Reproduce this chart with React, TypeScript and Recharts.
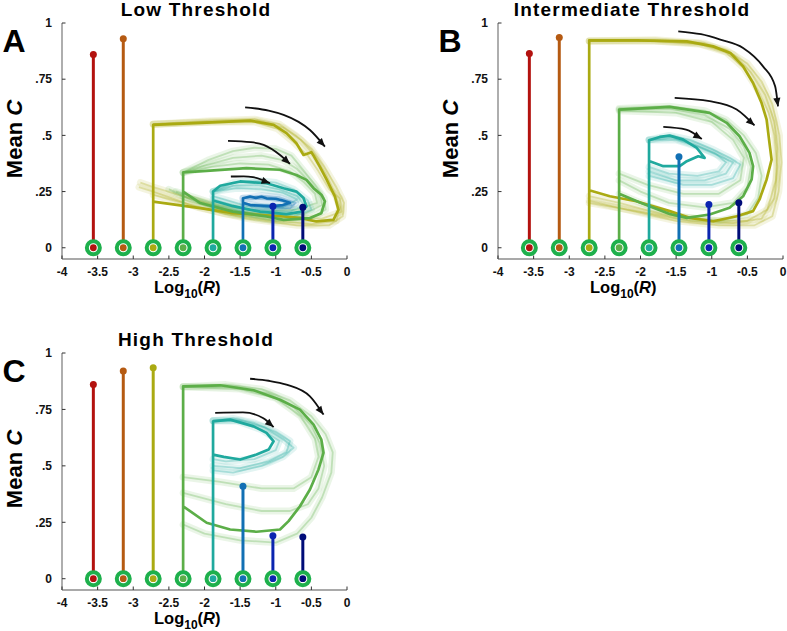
import React from 'react';
import { ComposedChart, Line, Scatter, XAxis, YAxis, Label } from 'recharts';

const FONT = '"Liberation Sans", Arial, Helvetica, sans-serif';

type Pt = [number, number];

// ---------- shared categories / ticks ----------
const STEM_X = [-3.56, -3.14, -2.72, -2.3, -1.88, -1.46, -1.04, -0.62];
const COLORS = ['#b3120f', '#b55a12', '#aaaa12', '#5cae48', '#1fa99e', '#1270b4', '#0b25b0', '#000c78'];
const RING = '#1eb04c';

const X_TICKS = [-4, -3.5, -3, -2.5, -2, -1.5, -1, -0.5, 0];
const X_TICK_LABELS = ['-4', '-3.5', '-3', '-2.5', '-2', '-1.5', '-1', '-0.5', '0'];
const Y_TICKS = [0, 0.25, 0.5, 0.75, 1];
const Y_TICK_LABELS = ['0', '.25', '.5', '.75', '1'];

// ---------- Panel A: Low Threshold ----------
const A_STEM_TOPS: Pt[] = [[0, 0.86], [1, 0.93], [6, 0.185], [7, 0.18]];
const A_OLIVE: Pt[] = [[-2.72, 0], [-2.72, 0.547], [-1.97, 0.557], [-1.36, 0.566], [-1.03, 0.547], [-0.85, 0.51], [-0.71, 0.465], [-0.61, 0.413], [-0.5, 0.425], [-0.47, 0.41], [-0.38, 0.36], [-0.28, 0.3], [-0.17, 0.228], [-0.12, 0.169], [-0.19, 0.124], [-0.43, 0.117], [-0.66, 0.133], [-0.89, 0.139], [-1.6, 0.154], [-2.06, 0.176], [-2.72, 0.205]];
const A_OLIVE_F1: Pt[] = [[-2.72, 0.55], [-1.9, 0.565], [-1.3, 0.572], [-0.95, 0.55], [-0.72, 0.5], [-0.5, 0.44], [-0.32, 0.36], [-0.15, 0.27], [-0.04, 0.2], [-0.06, 0.14], [-0.25, 0.1], [-0.7, 0.1], [-1.4, 0.13], [-2.1, 0.18], [-2.72, 0.25], [-2.92, 0.27]];
const A_OLIVE_F2: Pt[] = [[-2.72, 0.55], [-1.9, 0.56], [-1.25, 0.565], [-0.9, 0.535], [-0.65, 0.48], [-0.45, 0.41], [-0.3, 0.33], [-0.18, 0.25], [-0.1, 0.18], [-0.15, 0.12], [-0.5, 0.105], [-1.0, 0.12], [-1.7, 0.15], [-2.3, 0.2], [-2.72, 0.235]];
const A_OLIVE_F3: Pt[] = [[-2.72, 0.55], [-1.9, 0.56], [-1.3, 0.56], [-0.98, 0.53], [-0.75, 0.47], [-0.55, 0.41], [-0.4, 0.34], [-0.25, 0.26], [-0.1, 0.22], [-0.08, 0.16], [-0.35, 0.13], [-0.8, 0.135], [-1.5, 0.16], [-2.2, 0.22], [-2.72, 0.27], [-2.9, 0.29]];
const A_GREEN: Pt[] = [[-2.3, 0], [-2.3, 0.335], [-1.97, 0.342], [-1.41, 0.354], [-0.94, 0.347], [-0.71, 0.324], [-0.57, 0.302], [-0.47, 0.265], [-0.36, 0.236], [-0.31, 0.206], [-0.36, 0.154], [-0.52, 0.132], [-0.89, 0.124], [-1.13, 0.139], [-1.6, 0.161], [-2.06, 0.199], [-2.3, 0.25]];
const A_GREEN_F1: Pt[] = [[-2.3, 0.335], [-1.95, 0.39], [-1.6, 0.43], [-1.3, 0.445], [-1.0, 0.44], [-0.78, 0.41], [-0.6, 0.34], [-0.45, 0.28], [-0.32, 0.22], [-0.3, 0.17], [-0.5, 0.13], [-1.0, 0.12], [-1.6, 0.15], [-2.1, 0.2], [-2.5, 0.26]];
const A_GREEN_F2: Pt[] = [[-2.3, 0.335], [-1.95, 0.37], [-1.6, 0.4], [-1.2, 0.41], [-0.9, 0.39], [-0.7, 0.35], [-0.52, 0.29], [-0.38, 0.24], [-0.35, 0.19], [-0.6, 0.15], [-1.1, 0.145], [-1.7, 0.17], [-2.3, 0.23]];
const A_GREEN_F3: Pt[] = [[-2.3, 0.335], [-1.9, 0.36], [-1.5, 0.375], [-1.1, 0.37], [-0.8, 0.34], [-0.6, 0.29], [-0.45, 0.24], [-0.42, 0.2], [-0.7, 0.17], [-1.2, 0.16], [-1.8, 0.19], [-2.4, 0.25]];
const A_TEAL: Pt[] = [[-1.88, 0], [-1.88, 0.25], [-1.78, 0.276], [-1.5, 0.295], [-1.13, 0.287], [-0.89, 0.265], [-0.71, 0.25], [-0.61, 0.221], [-0.57, 0.184], [-0.65, 0.16], [-0.85, 0.15], [-1.22, 0.161], [-1.6, 0.185], [-1.88, 0.21]];
const A_TEAL_F1: Pt[] = [[-1.88, 0.25], [-1.6, 0.29], [-1.3, 0.3], [-1.0, 0.29], [-0.75, 0.26], [-0.55, 0.21], [-0.5, 0.17], [-0.75, 0.14], [-1.3, 0.15], [-1.88, 0.19]];
const A_TEAL_F2: Pt[] = [[-1.88, 0.25], [-1.6, 0.275], [-1.25, 0.28], [-0.95, 0.26], [-0.7, 0.23], [-0.6, 0.19], [-0.8, 0.16], [-1.4, 0.17], [-1.88, 0.215]];
const A_TEAL_F3: Pt[] = [[-1.88, 0.25], [-1.55, 0.265], [-1.2, 0.26], [-0.9, 0.245], [-0.7, 0.215], [-0.9, 0.18], [-1.4, 0.185], [-1.88, 0.23]];
const A_BLUE: Pt[] = [[-1.46, 0], [-1.46, 0.22], [-1.36, 0.228], [-1.28, 0.222], [-1.2, 0.227], [-1.13, 0.22], [-1.0, 0.218], [-0.9, 0.21], [-0.8, 0.2], [-0.9, 0.19], [-1.05, 0.185], [-1.22, 0.188], [-1.36, 0.19], [-1.46, 0.2]];
const A_BLUE_F1: Pt[] = [[-1.46, 0.22], [-1.2, 0.232], [-0.95, 0.225], [-0.72, 0.2], [-0.8, 0.175], [-1.15, 0.18], [-1.46, 0.2]];
const A_BLUE_F2: Pt[] = [[-1.46, 0.22], [-1.15, 0.215], [-0.9, 0.205], [-0.78, 0.19], [-1.0, 0.18], [-1.3, 0.185]];
const A_ARROW_1: Pt[] = [[-1.43, 0.625], [-1.1, 0.61], [-0.89, 0.591], [-0.68, 0.56], [-0.52, 0.524], [-0.31, 0.45]];
const A_ARROW_2: Pt[] = [[-1.67, 0.476], [-1.35, 0.47], [-1.17, 0.458], [-0.94, 0.413], [-0.8, 0.373]];
const A_ARROW_3: Pt[] = [[-1.63, 0.317], [-1.45, 0.318], [-1.32, 0.314], [-1.08, 0.287]];

// ---------- Panel B: Intermediate Threshold ----------
const B_STEM_TOPS: Pt[] = [[0, 0.864], [1, 0.935], [5, 0.405], [6, 0.192], [7, 0.2]];
const B_OLIVE: Pt[] = [[-2.72, 0], [-2.72, 0.923], [-2.05, 0.923], [-1.35, 0.918], [-0.98, 0.896], [-0.74, 0.867], [-0.56, 0.807], [-0.42, 0.733], [-0.3, 0.644], [-0.23, 0.57], [-0.19, 0.467], [-0.16, 0.392], [-0.23, 0.304], [-0.33, 0.215], [-0.42, 0.163], [-0.65, 0.14], [-0.98, 0.118], [-1.31, 0.133], [-1.59, 0.163], [-2.06, 0.207], [-2.43, 0.229], [-2.72, 0.256]];
const B_OLIVE_F1: Pt[] = [[-2.72, 0.92], [-1.8, 0.92], [-1.2, 0.91], [-0.8, 0.88], [-0.5, 0.82], [-0.3, 0.74], [-0.15, 0.64], [-0.05, 0.5], [-0.02, 0.38], [-0.06, 0.25], [-0.15, 0.14], [-0.4, 0.1], [-0.9, 0.1], [-1.5, 0.12], [-2.2, 0.17], [-2.72, 0.21]];
const B_OLIVE_F2: Pt[] = [[-2.72, 0.92], [-1.8, 0.925], [-1.1, 0.91], [-0.7, 0.86], [-0.45, 0.78], [-0.25, 0.68], [-0.12, 0.56], [-0.08, 0.44], [-0.1, 0.3], [-0.22, 0.17], [-0.5, 0.12], [-1.0, 0.12], [-1.7, 0.15], [-2.3, 0.2], [-2.72, 0.23]];
const B_OLIVE_F3: Pt[] = [[-2.72, 0.92], [-1.8, 0.92], [-1.15, 0.905], [-0.8, 0.87], [-0.55, 0.8], [-0.35, 0.7], [-0.2, 0.6], [-0.12, 0.5], [-0.08, 0.36], [-0.12, 0.22], [-0.3, 0.13], [-0.7, 0.11], [-1.3, 0.12], [-2.0, 0.16], [-2.72, 0.2]];
const B_GREEN: Pt[] = [[-2.3, 0], [-2.3, 0.615], [-1.59, 0.627], [-1.03, 0.6], [-0.79, 0.556], [-0.61, 0.496], [-0.47, 0.422], [-0.42, 0.363], [-0.44, 0.304], [-0.56, 0.229], [-0.75, 0.178], [-1.03, 0.148], [-1.35, 0.133], [-1.59, 0.15], [-2.0, 0.2], [-2.3, 0.24]];
const B_GREEN_F1: Pt[] = [[-2.3, 0.62], [-1.6, 0.63], [-1.1, 0.61], [-0.8, 0.57], [-0.55, 0.5], [-0.38, 0.42], [-0.3, 0.32], [-0.35, 0.22], [-0.5, 0.15], [-0.9, 0.12], [-1.5, 0.14], [-2.0, 0.2], [-2.3, 0.24]];
const B_GREEN_F2: Pt[] = [[-2.3, 0.615], [-1.6, 0.62], [-1.1, 0.59], [-0.75, 0.53], [-0.55, 0.45], [-0.45, 0.36], [-0.5, 0.27], [-0.7, 0.2], [-1.1, 0.18], [-1.6, 0.2], [-2.0, 0.25], [-2.3, 0.3]];
const B_GREEN_F3: Pt[] = [[-2.3, 0.61], [-1.5, 0.6], [-1.0, 0.56], [-0.7, 0.48], [-0.55, 0.4], [-0.6, 0.3], [-0.9, 0.24], [-1.4, 0.24], [-1.9, 0.28], [-2.3, 0.33]];
const B_TEAL: Pt[] = [[-1.88, 0], [-1.88, 0.478], [-1.73, 0.493], [-1.59, 0.499], [-1.4, 0.481], [-1.21, 0.444], [-1.1, 0.4], [-1.19, 0.407], [-1.35, 0.385], [-1.45, 0.363], [-1.68, 0.363], [-1.87, 0.385]];
const B_TEAL_F1: Pt[] = [[-1.88, 0.48], [-1.6, 0.5], [-1.3, 0.48], [-1.0, 0.44], [-0.75, 0.4], [-0.6, 0.37], [-0.7, 0.31], [-1.0, 0.28], [-1.4, 0.28], [-1.88, 0.32]];
const B_TEAL_F2: Pt[] = [[-1.88, 0.48], [-1.55, 0.49], [-1.25, 0.46], [-0.95, 0.42], [-0.8, 0.38], [-0.9, 0.34], [-1.2, 0.32], [-1.6, 0.33], [-1.88, 0.36]];
const B_TEAL_F3: Pt[] = [[-1.88, 0.48], [-1.5, 0.48], [-1.2, 0.45], [-0.9, 0.41], [-0.7, 0.38], [-0.8, 0.33], [-1.1, 0.3], [-1.5, 0.3], [-1.88, 0.34]];
const B_ARROW_1: Pt[] = [[-1.47, 0.963], [-1.15, 0.95], [-0.88, 0.926], [-0.56, 0.889], [-0.28, 0.807], [-0.11, 0.718], [-0.07, 0.629]];
const B_ARROW_2: Pt[] = [[-1.52, 0.667], [-1.03, 0.652], [-0.65, 0.615], [-0.4, 0.544]];
const B_ARROW_3: Pt[] = [[-1.68, 0.538], [-1.36, 0.526], [-1.14, 0.484]];

// ---------- Panel C: High Threshold ----------
const C_STEM_TOPS: Pt[] = [[0, 0.86], [1, 0.92], [2, 0.935], [5, 0.41], [6, 0.19], [7, 0.185]];
const C_GREEN: Pt[] = [[-2.3, 0], [-2.3, 0.852], [-1.78, 0.857], [-1.31, 0.835], [-0.94, 0.793], [-0.66, 0.749], [-0.47, 0.683], [-0.36, 0.616], [-0.33, 0.558], [-0.4, 0.484], [-0.52, 0.395], [-0.66, 0.321], [-0.82, 0.255], [-0.94, 0.218], [-1.27, 0.208], [-1.64, 0.218], [-1.97, 0.248], [-2.3, 0.321]];
const C_GREEN_F1: Pt[] = [[-2.3, 0.85], [-1.7, 0.86], [-1.2, 0.84], [-0.8, 0.79], [-0.5, 0.72], [-0.3, 0.64], [-0.2, 0.56], [-0.22, 0.47], [-0.35, 0.36], [-0.5, 0.27], [-0.7, 0.2], [-1.0, 0.16], [-1.5, 0.17], [-2.0, 0.2], [-2.3, 0.24]];
const C_GREEN_F2: Pt[] = [[-2.3, 0.85], [-1.6, 0.85], [-1.1, 0.82], [-0.75, 0.76], [-0.5, 0.68], [-0.38, 0.6], [-0.32, 0.5], [-0.4, 0.4], [-0.55, 0.33], [-0.8, 0.3], [-1.2, 0.3], [-1.7, 0.33], [-2.3, 0.38]];
const C_GREEN_F3: Pt[] = [[-2.3, 0.85], [-1.5, 0.84], [-1.0, 0.8], [-0.65, 0.72], [-0.45, 0.62], [-0.4, 0.54], [-0.5, 0.45], [-0.75, 0.4], [-1.2, 0.4], [-1.8, 0.43], [-2.3, 0.45]];
const C_TEAL: Pt[] = [[-1.88, 0], [-1.88, 0.697], [-1.64, 0.705], [-1.31, 0.675], [-1.13, 0.646], [-1.03, 0.609], [-1.1, 0.572], [-1.27, 0.55], [-1.5, 0.528], [-1.73, 0.54], [-1.88, 0.55]];
const C_TEAL_F1: Pt[] = [[-1.88, 0.7], [-1.6, 0.71], [-1.3, 0.69], [-1.0, 0.65], [-0.8, 0.61], [-0.85, 0.56], [-1.1, 0.52], [-1.5, 0.49], [-1.88, 0.5]];
const C_TEAL_F2: Pt[] = [[-1.88, 0.7], [-1.55, 0.7], [-1.2, 0.66], [-0.95, 0.61], [-1.0, 0.57], [-1.3, 0.53], [-1.7, 0.52], [-1.88, 0.53]];
const C_TEAL_F3: Pt[] = [[-1.88, 0.7], [-1.5, 0.7], [-1.15, 0.67], [-0.9, 0.62], [-0.75, 0.58], [-0.9, 0.54], [-1.2, 0.5], [-1.6, 0.47], [-1.88, 0.48]];
const C_ARROW_1: Pt[] = [[-1.36, 0.886], [-1.1, 0.877], [-0.85, 0.86], [-0.52, 0.808], [-0.33, 0.727]];
const C_ARROW_2: Pt[] = [[-1.85, 0.735], [-1.46, 0.737], [-1.18, 0.712], [-1.03, 0.672]];

// ---------- helpers ----------
const toData = (pts: Pt[]) => pts.map(([x, y]) => ({ x, y }));

type Traj = { ci: number; bold: Pt[]; faint: Pt[][] };

type PanelProps = {
  letter: string;
  title: string;
  left: number;
  top: number;
  width: number;
  height: number;
  marginRight: number;
  stemTops: Pt[];
  trajs: Traj[];
  arrows: Pt[][];
};

const XTick = (p: any) => {
  const { x, y, index } = p;
  return (
    <g>
      <line x1={x} x2={x} y1={y} y2={y - 3.5} stroke="#333" strokeWidth={1} />
      <text x={x} y={y + 16.5} textAnchor="middle" fontSize={12} fontWeight="bold" fontFamily={FONT} fill="#111">
        {X_TICK_LABELS[index]}
      </text>
    </g>
  );
};

const YTick = (p: any) => {
  const { x, y, index } = p;
  return (
    <g>
      <line x1={x} x2={x + 3.5} y1={y} y2={y} stroke="#333" strokeWidth={1} />
      <text x={x - 10} y={y + 4.3} textAnchor="end" fontSize={12} fontWeight="bold" fontFamily={FONT} fill="#111">
        {Y_TICK_LABELS[index]}
      </text>
    </g>
  );
};

const makeArrowDot = (n: number) => (p: any) => {
  const { cx, cy, index, points, key } = p;
  if (index !== n - 1 || cx == null) return <g key={key} />;
  let ang = Math.PI / 4;
  if (points && points[index - 1]) {
    const prev = points[index - 1];
    ang = Math.atan2(cy - prev.y, cx - prev.x);
  }
  const L = 8.5;
  const W = 3.6;
  const c = Math.cos(ang);
  const s = Math.sin(ang);
  const bx = cx - L * c;
  const by = cy - L * s;
  return (
    <polygon
      key={key}
      points={`${cx},${cy} ${bx - W * s},${by + W * c} ${bx + W * s},${by - W * c}`}
      fill="#111"
    />
  );
};

const makeTopDot = (color: string) => (p: any) => {
  const { cx, cy, index, key } = p;
  if (index !== 1 || cx == null) return <g key={key} />;
  return <circle key={key} cx={cx} cy={cy} r={3.5} fill={color} />;
};

const RingShape = (p: any) => {
  const { cx, cy, payload } = p;
  if (cx == null) return <g />;
  return (
    <g>
      <circle cx={cx} cy={cy} r={6.5} fill="#fff" stroke={RING} strokeWidth={4} />
      <circle cx={cx} cy={cy} r={3.4} fill={COLORS[payload.i]} />
    </g>
  );
};

const Panel = ({ letter, title, left, top, width, height, marginRight, stemTops, trajs, arrows }: PanelProps) => {
  const ringData = STEM_X.map((x, i) => ({ x, y: 0, i }));

  const yLabel = (p: any) => {
    const vb = p.viewBox || { x: 2, y: 23, width: 60, height: 236 };
    const plotLeft = vb.x + vb.width;
    return (
      <g>
        <text
          x={plotLeft - 40.5}
          y={vb.y + 116}
          transform={`rotate(-90, ${plotLeft - 40.5}, ${vb.y + 116})`}
          textAnchor="middle"
          fontSize={22}
          fontWeight="bold"
          fontFamily={FONT}
          fill="#000"
        >
          Mean <tspan fontStyle="italic">C</tspan>
        </text>
        <text
          x={plotLeft + 134}
          y={vb.y - 7}
          textAnchor="middle"
          fontSize={19}
          letterSpacing={1.2}
          fontWeight="bold"
          fontFamily={FONT}
          fill="#000"
        >
          {title}
        </text>
        <text x={plotLeft - 59.5} y={vb.y + 28.5} fontSize={32} fontWeight="bold" fontFamily={FONT} fill="#000">
          {letter}
        </text>
      </g>
    );
  };

  const xLabel = (p: any) => {
    const vb = p.viewBox || { x: 62, y: 259, width: 285, height: 40 };
    return (
      <text x={vb.x + 92} y={vb.y + 34} textAnchor="start" fontSize={16.5} fontWeight="bold" fontFamily={FONT} fill="#000">
        Log
        <tspan fontSize={12} dy={5}>10</tspan>
        <tspan dy={-5}>(</tspan>
        <tspan fontStyle="italic">R</tspan>
        <tspan>)</tspan>
      </text>
    );
  };

  return (
    <div style={{ position: 'absolute', left, top, width, height }}>
      <ComposedChart width={width} height={height} margin={{ top: 23, right: marginRight, left: 2, bottom: 1 }}>
        <XAxis
          type="number"
          dataKey="x"
          domain={[-4, 0]}
          ticks={X_TICKS}
          interval={0}
          height={40}
          tickSize={0}
          tickMargin={0}
          tickLine={false}
          axisLine={{ stroke: '#8c8c8c', strokeWidth: 1.4 }}
          tick={XTick}
          allowDataOverflow
        >
          <Label content={xLabel} />
        </XAxis>
        <YAxis
          type="number"
          dataKey="y"
          domain={[-0.05, 1]}
          ticks={Y_TICKS}
          interval={0}
          width={60}
          tickSize={0}
          tickMargin={0}
          tickLine={false}
          axisLine={{ stroke: '#8c8c8c', strokeWidth: 1.4 }}
          tick={YTick}
          allowDataOverflow
        >
          <Label content={yLabel} />
        </YAxis>

        {trajs.flatMap((t, ti) =>
          t.faint.map((f, fi) => (
            <Line
              key={`h-${ti}-${fi}`}
              data={toData(f)}
              dataKey="y"
              type="linear"
              stroke={COLORS[t.ci]}
              strokeOpacity={0.13}
              strokeWidth={7}
              strokeLinejoin="round"
              strokeLinecap="round"
              dot={false}
              activeDot={false}
              isAnimationActive={false}
            />
          ))
        )}

        {trajs.flatMap((t, ti) =>
          t.faint.map((f, fi) => (
            <Line
              key={`f-${ti}-${fi}`}
              data={toData(f)}
              dataKey="y"
              type="linear"
              stroke={COLORS[t.ci]}
              strokeOpacity={0.3}
              strokeWidth={1.8}
              strokeLinejoin="round"
              dot={false}
              activeDot={false}
              isAnimationActive={false}
            />
          ))
        )}

        {trajs.map((t, ti) => (
          <Line
            key={`b-${ti}`}
            data={toData(t.bold)}
            dataKey="y"
            type="linear"
            stroke={COLORS[t.ci]}
            strokeWidth={2.7}
            strokeLinejoin="round"
            dot={false}
            activeDot={false}
            isAnimationActive={false}
          />
        ))}

        {stemTops.map(([ci, topY]) => (
          <Line
            key={`s-${ci}`}
            data={toData([[STEM_X[ci], 0], [STEM_X[ci], topY]])}
            dataKey="y"
            type="linear"
            stroke={COLORS[ci]}
            strokeWidth={3}
            dot={makeTopDot(COLORS[ci])}
            activeDot={false}
            isAnimationActive={false}
          />
        ))}

        {arrows.map((a, ai) => (
          <Line
            key={`a-${ai}`}
            data={toData(a)}
            dataKey="y"
            type="monotone"
            stroke="#111"
            strokeWidth={1.8}
            dot={makeArrowDot(a.length)}
            activeDot={false}
            isAnimationActive={false}
          />
        ))}

        <Scatter data={ringData} dataKey="y" shape={RingShape} isAnimationActive={false} />
      </ComposedChart>
    </div>
  );
};

export default function App() {
  return (
    <div style={{ position: 'absolute', left: 0, top: 0, width: 787, height: 631, background: '#fff', overflow: 'hidden' }}>
      <Panel
        letter="A"
        title="Low Threshold"
        left={0}
        top={0}
        width={390}
        height={300}
        marginRight={43}
        stemTops={A_STEM_TOPS}
        trajs={[
          { ci: 2, bold: A_OLIVE, faint: [A_OLIVE_F1, A_OLIVE_F2, A_OLIVE_F3] },
          { ci: 3, bold: A_GREEN, faint: [A_GREEN_F1, A_GREEN_F2, A_GREEN_F3] },
          { ci: 4, bold: A_TEAL, faint: [A_TEAL_F1, A_TEAL_F2, A_TEAL_F3] },
          { ci: 5, bold: A_BLUE, faint: [A_BLUE_F1, A_BLUE_F2] },
        ]}
        arrows={[A_ARROW_1, A_ARROW_2, A_ARROW_3]}
      />
      <Panel
        letter="B"
        title="Intermediate Threshold"
        left={436}
        top={0}
        width={351}
        height={300}
        marginRight={4}
        stemTops={B_STEM_TOPS}
        trajs={[
          { ci: 2, bold: B_OLIVE, faint: [B_OLIVE_F1, B_OLIVE_F2, B_OLIVE_F3] },
          { ci: 3, bold: B_GREEN, faint: [B_GREEN_F1, B_GREEN_F2, B_GREEN_F3] },
          { ci: 4, bold: B_TEAL, faint: [B_TEAL_F1, B_TEAL_F2, B_TEAL_F3] },
        ]}
        arrows={[B_ARROW_1, B_ARROW_2, B_ARROW_3]}
      />
      <Panel
        letter="C"
        title="High Threshold"
        left={0}
        top={330}
        width={390}
        height={301}
        marginRight={43}
        stemTops={C_STEM_TOPS}
        trajs={[
          { ci: 3, bold: C_GREEN, faint: [C_GREEN_F1, C_GREEN_F2, C_GREEN_F3] },
          { ci: 4, bold: C_TEAL, faint: [C_TEAL_F1, C_TEAL_F2, C_TEAL_F3] },
        ]}
        arrows={[C_ARROW_1, C_ARROW_2]}
      />
    </div>
  );
}
